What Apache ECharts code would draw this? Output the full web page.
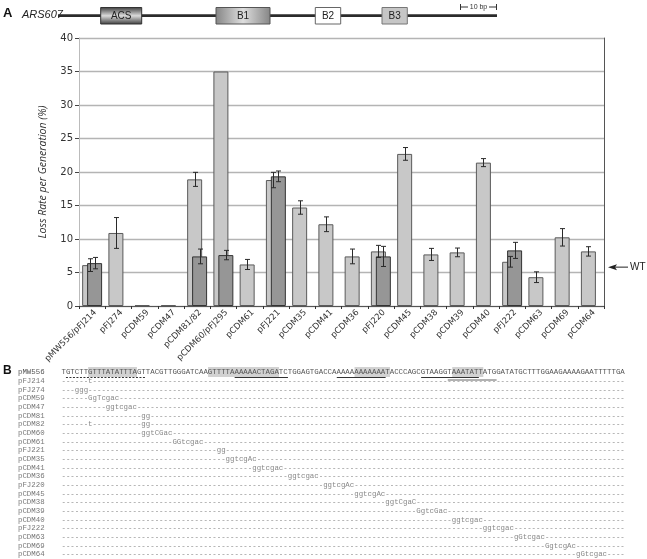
<!DOCTYPE html>
<html><head><meta charset="utf-8">
<script src="https://cdn.jsdelivr.net/npm/echarts@6/dist/echarts.min.js"></script>
<style>html,body{margin:0;padding:0;background:#fff}#c{width:647px;height:559px}</style>
</head><body><div id="c"></div>
<script>
// ---------- data ----------
const categories = ['pMW556/pFJ214','pFJ274','pCDM59','pCDM47','pCDM81/82','pCDM60/pFJ295','pCDM61','pFJ221','pCDM35','pCDM41','pCDM36','pFJ220','pCDM45','pCDM38','pCDM39','pCDM40','pFJ222','pCDM63','pCDM69','pCDM64'];
const lightValues = [6.1, 10.9, 0.1, 0.1, 18.9, 35.0, 6.2, 18.8, 14.7, 12.2, 7.4, 8.15, 22.7, 7.7, 8.0, 21.4, 6.6, 4.3, 10.25, 8.15];
const lightErrors = [0.95, 2.3, null, null, 1.05, null, 0.75, 1.15, 1.0, 1.1, 1.1, 0.9, 0.95, 0.9, 0.65, 0.6, 0.8, 0.8, 1.3, 0.7];
const darkValues  = [6.4, null, null, null, 7.4, 7.6, null, 19.35, null, null, null, 7.4, null, null, null, null, 8.3, null, null, null];
const darkErrors  = [0.85, null, null, null, 1.1, 0.7, null, 0.8, null, null, null, 1.5, null, null, null, null, 1.2, null, null, null];
const wtLevel = 5.8;
const yAxisTitle = 'Loss Rate per Generation (%)';

const elementNames = ['ACS', 'B1', 'B2', 'B3'];
const refName = 'pMW556';
const refSequence = 'TGTCTTGTTTATATTTAGTTACGTTGGGATCAAGTTTTAAAAAACTAGATCTGGAGTGACCAAAAAAAAAAAATACCCAGCGTAAGGTAAATATTATGGATATGCTTTGGAAGAAAAGAATTTTTGA';
const alignLabels = ['pFJ214','pFJ274','pCDM59','pCDM47','pCDM81','pCDM82','pCDM60','pCDM61','pFJ221','pCDM35','pCDM41','pCDM36','pFJ220','pCDM45','pCDM38','pCDM39','pCDM40','pFJ222','pCDM63','pCDM69','pCDM64'];
const alignMutations = [
  [[6,'t']], [[3,'ggg']], [[6,'GgTcgac']], [[10,'ggtcgac']], [[18,'gg']], [[6,'t'],[18,'gg']],
  [[18,'ggtCGac']], [[25,'GGtcgac']], [[35,'gg']], [[37,'ggtcgAc']], [[43,'ggtcgac']], [[51,'ggtcgac']],
  [[59,'ggtcgAc']], [[66,'ggtcgAc']], [[73,'ggtCgaC']], [[80,'GgtcGac']], [[88,'ggtcgac']], [[95,'ggtcgac']],
  [[102,'gGtcgac']], [[109,'GgtcgAc']], [[116,'gGtcgac']]
];
const seqHighlights = [[6,16],[33,48],[66,73],[88,94]];
const seqUnderlines = [[39,50],[62,72],[81,93]];

// ---------- chart ----------
const chart = echarts.init(document.getElementById('c'));
const G = {left:79, right:43, top:38, bottom:253};

function errSeries(values, errs, offset) {
  return {
    type:'custom', z:5, xAxisIndex:0, yAxisIndex:0,
    encode:{x:0, y:1},
    renderItem(params, api) {
      const i = api.value(0), v = api.value(1), e = api.value(2);
      const t = api.coord([i, v + e]), b = api.coord([i, v - e]);
      const x = Math.round(t[0] + offset) + 0.5;
      const s = {stroke:'#2a2a2a', lineWidth:1};
      return {type:'group', children:[
        {type:'line', shape:{x1:x, y1:t[1], x2:x, y2:b[1]}, style:s},
        {type:'line', shape:{x1:x-2.5, y1:t[1], x2:x+2.5, y2:t[1]}, style:s},
        {type:'line', shape:{x1:x-2.5, y1:b[1], x2:x+2.5, y2:b[1]}, style:s}
      ]};
    },
    data: values.map((v, i) => (v != null && errs[i] != null) ? [i, v, errs[i]] : null).filter(Boolean)
  };
}

const MONO = '"Liberation Mono", "DejaVu Sans Mono", monospace';
const FS = 7.4, CW = FS * 0.6, SEQX = 61.5, SEQY = 372;

function buildPanelB() {
  const g = [];
  g.push({type:'text', left:3, top:SEQY-7, style:{text:'B', font:'bold 12px "Liberation Sans"', fill:'#111'}});
  seqHighlights.forEach(([a, b]) => g.push({type:'rect', shape:{x:SEQX + a*CW, y:SEQY-5, width:(b-a+1)*CW, height:10}, style:{fill:'#d2d2d2'}, z:0}));
  g.push({type:'line', shape:{x1:SEQX + 1*CW, y1:SEQY+5.5, x2:SEQX + 19*CW, y2:SEQY+5.5}, style:{stroke:'#333', lineWidth:1, lineDash:[2,1.5]}});
  seqUnderlines.forEach(([a, b]) => g.push({type:'line', shape:{x1:SEQX + a*CW, y1:SEQY+5.5, x2:SEQX + (b+1)*CW, y2:SEQY+5.5}, style:{stroke:'#333', lineWidth:1}}));
  g.push({type:'line', shape:{x1:SEQX + 87*CW, y1:SEQY+8, x2:SEQX + 98*CW, y2:SEQY+8}, style:{stroke:'#999', lineWidth:1.6}});
  g.push({type:'text', x:18, y:SEQY, style:{text:refName, font:FS+'px '+MONO, fill:'#555', verticalAlign:'middle'}, z:2});
  g.push({type:'text', x:SEQX, y:SEQY, style:{text:refSequence, font:FS+'px '+MONO, fill:'#555', verticalAlign:'middle'}, z:2});
  alignLabels.forEach((lab, r) => {
    const y = 381 + r * 8.67;
    const chars = new Array(refSequence.length).fill('-');
    alignMutations[r].forEach(([p, s]) => { for (let k = 0; k < s.length; k++) chars[p+k] = s[k]; });
    g.push({type:'text', x:18, y, style:{text:lab, font:FS+'px '+MONO, fill:'#777', verticalAlign:'middle'}});
    g.push({type:'text', x:SEQX, y, style:{text:chars.join(''), font:FS+'px '+MONO, fill:'#888', verticalAlign:'middle'}});
  });
  return g;
}

function buildHeader() {
  const g = [];
  g.push({type:'text', left:3, top:7, style:{text:'A', font:'bold 13px "Liberation Sans"', fill:'#111'}});
  g.push({type:'text', x:22, y:15, style:{text:'ARS607', font:'italic 11px "Liberation Sans Narrow", "Liberation Sans"', fill:'#222', verticalAlign:'middle'}});
  g.push({type:'rect', shape:{x:58, y:14.3, width:439, height:2.6}, style:{fill:'#2b2b2b'}});
  const boxes = [
    {x:100.7, w:41, fill:new echarts.graphic.LinearGradient(0,0,0,1,[{offset:0,color:'#3a3a3a'},{offset:0.5,color:'#dadada'},{offset:1,color:'#3a3a3a'}]), stroke:'#333'},
    {x:216, w:54, fill:new echarts.graphic.LinearGradient(0,0,1,0,[{offset:0,color:'#858585'},{offset:0.5,color:'#dedede'},{offset:1,color:'#858585'}]), stroke:'#555'},
    {x:315.3, w:25.4, fill:'#ffffff', stroke:'#666'},
    {x:382, w:25.3, fill:'#c6c6c6', stroke:'#777'}
  ];
  boxes.forEach((b, i) => {
    g.push({type:'rect', shape:{x:b.x, y:7.5, width:b.w, height:16.5}, style:{fill:b.fill, stroke:b.stroke, lineWidth:1}});
    g.push({type:'text', x:b.x + b.w/2, y:16, style:{text:elementNames[i], font:'10px "Liberation Sans Narrow", "Liberation Sans"', fill:'#222', align:'center', verticalAlign:'middle'}});
  });
  const sy = 7;
  const ls = {stroke:'#333', lineWidth:1};
  g.push({type:'line', shape:{x1:460.5, y1:sy-3, x2:460.5, y2:sy+3}, style:ls});
  g.push({type:'line', shape:{x1:460.5, y1:sy, x2:468, y2:sy}, style:ls});
  g.push({type:'text', x:478.5, y:sy, style:{text:'10 bp', font:'7px "Liberation Sans"', fill:'#333', align:'center', verticalAlign:'middle'}});
  g.push({type:'line', shape:{x1:489, y1:sy, x2:496.5, y2:sy}, style:ls});
  g.push({type:'line', shape:{x1:496.5, y1:sy-3, x2:496.5, y2:sy+3}, style:ls});
  return g;
}

chart.setOption({
  animation:false,
  backgroundColor:'#fff',
  grid:G,
  xAxis:[
    {type:'category', data:categories, position:'bottom',
     axisLine:{lineStyle:{color:'#333', width:1}},
     axisTick:{show:true, interval:0, length:3, lineStyle:{color:'#333'}},
     axisLabel:{interval:0, rotate:45, fontSize:8.5, fontFamily:'"DejaVu Sans"', color:'#333', margin:2, verticalAlign:'top'},
     splitLine:{show:false}},
    {type:'category', data:categories, position:'top',
     axisLine:{lineStyle:{color:'#555', width:1}}, axisTick:{show:false}, axisLabel:{show:false}, splitLine:{show:false}}
  ],
  yAxis:[
    {type:'value', min:0, max:40, interval:5, position:'left',
     name:yAxisTitle, nameLocation:'middle', nameGap:30,
     nameTextStyle:{fontSize:10.5, fontFamily:'"Open Sans"', fontStyle:'italic', color:'#333'},
     axisLine:{show:true, lineStyle:{color:'#bbb'}},
     axisTick:{show:true, length:4, lineStyle:{color:'#444'}},
     axisLabel:{fontSize:10, fontFamily:'"DejaVu Sans"', color:'#333', margin:6},
     splitLine:{lineStyle:{color:'#b4b4b4', width:1.3}}},
    {type:'value', min:0, max:40, interval:5, position:'right',
     axisLine:{show:true, lineStyle:{color:'#555'}}, axisTick:{show:false}, axisLabel:{show:false}, splitLine:{show:false}}
  ],
  series:[
    {type:'bar', data:lightValues, barWidth:15, barGap:'-67%', xAxisIndex:0, yAxisIndex:0,
     itemStyle:{color:'#c8c8c8', borderColor:'#5a5a5a', borderWidth:1}},
    {type:'bar', data:darkValues, barWidth:15, barGap:'-67%', xAxisIndex:0, yAxisIndex:0,
     itemStyle:{color:'#969696', borderColor:'#333', borderWidth:1}},
    errSeries(lightValues, lightErrors, -2.5),
    errSeries(darkValues, darkErrors, 2.5)
  ]
});

const wtY = chart.convertToPixel({yAxisIndex:0}, wtLevel);
const wtGraphics = [
  {type:'line', shape:{x1:612, y1:wtY, x2:628, y2:wtY}, style:{stroke:'#222', lineWidth:1}},
  {type:'polygon', shape:{points:[[608,wtY],[617,wtY-3],[615,wtY],[617,wtY+3]]}, style:{fill:'#222'}},
  {type:'text', x:630, y:wtY, style:{text:'WT', font:'10px "Liberation Sans"', fill:'#222', verticalAlign:'middle'}}
];

chart.setOption({graphic:[].concat(buildHeader(), wtGraphics, buildPanelB())});
</script>
</body></html>
